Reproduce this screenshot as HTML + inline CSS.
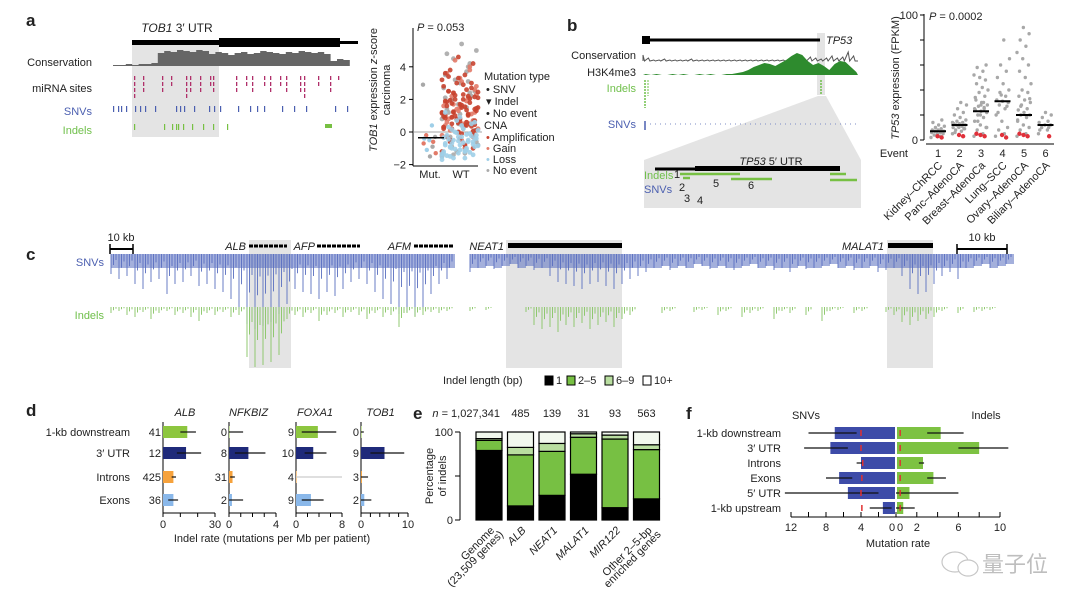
<!DOCTYPE html>
<html><head><meta charset="utf-8"><style>
html,body{margin:0;padding:0;background:#fff}
svg{display:block;font-family:"Liberation Sans","Noto Sans CJK SC",sans-serif}
text{fill:#222}
</style></head><body>
<svg id="fig" xmlns="http://www.w3.org/2000/svg" width="1080" height="607" viewBox="0 0 1080 607">
<rect width="1080" height="607" fill="#fff"/>
<text x="26" y="26" font-size="17" font-weight="bold">a</text>
<text x="567" y="31" font-size="17" font-weight="bold">b</text>
<text x="26" y="260" font-size="17" font-weight="bold">c</text>
<text x="26" y="416" font-size="17" font-weight="bold">d</text>
<text x="413" y="419" font-size="17" font-weight="bold">e</text>
<text x="686" y="419" font-size="17" font-weight="bold">f</text>

<g id="pa">
<rect x="132" y="45" width="87" height="92" fill="#e4e4e4"/>
<text x="177" y="32" font-size="12" text-anchor="middle"><tspan font-style="italic">TOB1</tspan> 3′ UTR</text>
<rect x="132" y="40" width="208" height="5" fill="#000"/>
<rect x="219" y="38" width="121" height="9" fill="#000"/>
<rect x="340" y="41" width="18" height="3" fill="#000"/>
<text x="92" y="66" font-size="11" text-anchor="end">Conservation</text>
<text x="92" y="92" font-size="11" text-anchor="end">miRNA sites</text>
<text x="92" y="115" font-size="11" text-anchor="end" style="fill:#4b5fb0">SNVs</text>
<text x="92" y="134" font-size="11" text-anchor="end" style="fill:#6fbf4a">Indels</text>
</g>
<g>
<line x1="413" y1="28" x2="413" y2="166" stroke="#000"/>
<line x1="413" y1="166" x2="478" y2="166" stroke="#000"/>
<line x1="413" y1="132" x2="482" y2="132" stroke="#888" stroke-width="0.8"/>
<text x="417" y="31" font-size="11"><tspan font-style="italic">P</tspan> = 0.053</text>
<text x="430" y="178" font-size="11" text-anchor="middle">Mut.</text>
<text x="461" y="178" font-size="11" text-anchor="middle">WT</text>
<text transform="translate(377,90) rotate(-90)" font-size="11" text-anchor="middle"><tspan font-style="italic">TOB1</tspan> expression <tspan font-style="italic">z</tspan>-score</text>
<text transform="translate(390,90) rotate(-90)" font-size="11" text-anchor="middle">carcinoma</text>
<g font-size="11">
<text x="484" y="80">Mutation type</text>
<text x="486" y="93">• SNV</text><text x="486" y="105">▾ Indel</text><text x="486" y="117">• No event</text>
<text x="484" y="129">CNA</text>
<text x="486" y="141"><tspan style="fill:#c8432f">•</tspan> Amplification</text>
<text x="486" y="152"><tspan style="fill:#e27a68">•</tspan> Gain</text>
<text x="486" y="163"><tspan style="fill:#9fcfe8">•</tspan> Loss</text>
<text x="486" y="174"><tspan style="fill:#aaa">•</tspan> No event</text>
</g>
</g>

<g>
<polygon points="818,96 826,96 861,160 644,160" fill="#e4e4e4"/>
<rect x="644" y="160" width="217" height="48" fill="#e4e4e4"/>
<rect x="817" y="33" width="8" height="62" fill="#e4e4e4"/>
<line x1="644" y1="40" x2="820" y2="40" stroke="#000" stroke-width="3"/>
<rect x="642" y="36" width="8" height="8" fill="#000"/>
<text x="826" y="44" font-size="11" font-style="italic">TP53</text>
<text x="636" y="59" font-size="11" text-anchor="end">Conservation</text>
<text x="636" y="76" font-size="11" text-anchor="end">H3K4me3</text>
<text x="636" y="92" font-size="11" text-anchor="end" style="fill:#6fbf4a">Indels</text>
<text x="636" y="128" font-size="11" text-anchor="end" style="fill:#4b5fb0">SNVs</text>
<line x1="650" y1="124" x2="858" y2="124" stroke="#7d8cc6" stroke-width="1" stroke-dasharray="1,4"/>
<line x1="645" y1="80" x2="645" y2="108" stroke="#6fbf4a" stroke-width="1.5" stroke-dasharray="2,1"/>
<line x1="648" y1="80" x2="648" y2="96" stroke="#6fbf4a" stroke-width="1" stroke-dasharray="2,1"/>
<line x1="821" y1="80" x2="821" y2="95" stroke="#6fbf4a" stroke-width="1.5" stroke-dasharray="2,1"/>
<line x1="645" y1="121" x2="645" y2="130" stroke="#4b5fb0" stroke-width="1.5"/>
<text x="771" y="165" font-size="11" text-anchor="middle"><tspan font-style="italic">TP53</tspan> 5′ UTR</text>
<line x1="655" y1="169" x2="695" y2="169" stroke="#000" stroke-width="3"/>
<rect x="695" y="166" width="145" height="5" fill="#000"/>
<text x="644" y="179" font-size="11" style="fill:#6fbf4a">Indels</text>
<text x="644" y="193" font-size="11" style="fill:#4b5fb0">SNVs</text>
<g stroke="#77c043" stroke-width="2.5">
<line x1="680" y1="174" x2="740" y2="174"/><line x1="731" y1="179" x2="772" y2="179"/>
<line x1="830" y1="174" x2="846" y2="174"/><line x1="830" y1="180" x2="857" y2="180"/><line x1="683" y1="178" x2="690" y2="178"/>
</g>
<g font-size="11">
<text x="674" y="178">1</text><text x="713" y="187">5</text><text x="748" y="189">6</text>
<text x="679" y="191">2</text><text x="684" y="202">3</text><text x="697" y="204">4</text>
</g>
</g>
<g>
<line x1="924" y1="14" x2="924" y2="140" stroke="#000"/>
<line x1="926" y1="144" x2="1054" y2="144" stroke="#000"/>
<text x="929" y="20" font-size="11"><tspan font-style="italic">P</tspan> = 0.0002</text>
<text transform="translate(899,78) rotate(-90)" font-size="11" text-anchor="middle"><tspan font-style="italic">TP53</tspan> expression (FPKM)</text>
<text x="908" y="157" font-size="11" text-anchor="end">Event</text>
</g>

<g>
<rect x="249" y="240" width="42" height="128" fill="#e4e4e4"/>
<rect x="506" y="240" width="116" height="128" fill="#e4e4e4"/>
<rect x="887" y="240" width="46" height="128" fill="#e4e4e4"/>
<text x="104" y="266" font-size="11" text-anchor="end" style="fill:#4b5fb0">SNVs</text>
<text x="104" y="319" font-size="11" text-anchor="end" style="fill:#6fbf4a">Indels</text>
<g><line x1="110" y1="249" x2="133" y2="249" stroke="#000" stroke-width="2"/><line x1="110" y1="244" x2="110" y2="254" stroke="#000" stroke-width="1.5"/><line x1="133" y1="244" x2="133" y2="254" stroke="#000" stroke-width="1.5"/><text x="121" y="241" font-size="11" text-anchor="middle">10 kb</text></g>
<g><line x1="957" y1="249" x2="1007" y2="249" stroke="#000" stroke-width="2"/><line x1="957" y1="244" x2="957" y2="254" stroke="#000" stroke-width="1.5"/><line x1="1007" y1="244" x2="1007" y2="254" stroke="#000" stroke-width="1.5"/><text x="982" y="241" font-size="11" text-anchor="middle">10 kb</text></g>
<g font-size="11" font-style="italic">
<text x="246" y="250" text-anchor="end">ALB</text><text x="315" y="250" text-anchor="end">AFP</text><text x="411" y="250" text-anchor="end">AFM</text>
<text x="504" y="250" text-anchor="end">NEAT1</text><text x="884" y="250" text-anchor="end">MALAT1</text></g>
<g>
<line x1="249" y1="246" x2="287" y2="246" stroke="#000" stroke-width="3" stroke-dasharray="4,1"/>
<line x1="317" y1="246" x2="360" y2="246" stroke="#000" stroke-width="3" stroke-dasharray="4,1"/>
<line x1="414" y1="246" x2="454" y2="246" stroke="#000" stroke-width="3" stroke-dasharray="4,1"/>
<rect x="508" y="243" width="114" height="5" fill="#000"/><rect x="888" y="243" width="45" height="5" fill="#000"/></g>
<g font-size="11">
<text x="443" y="384">Indel length (bp)</text>
<rect x="545" y="376" width="8" height="9" fill="#000" stroke="#000"/><text x="556" y="384">1</text>
<rect x="567" y="376" width="8" height="9" fill="#77c043" stroke="#000"/><text x="578" y="384">2–5</text>
<rect x="605" y="376" width="8" height="9" fill="#b9dea0" stroke="#000"/><text x="616" y="384">6–9</text>
<rect x="643" y="376" width="8" height="9" fill="#fff" stroke="#000"/><text x="654" y="384">10+</text>
</g>
</g>

<text x="272" y="542" font-size="11" text-anchor="middle">Indel rate (mutations per Mb per patient)</text>
<text transform="translate(433,476) rotate(-90)" font-size="11" text-anchor="middle">Percentage</text>
<text transform="translate(446,476) rotate(-90)" font-size="11" text-anchor="middle">of indels</text>
<text x="806" y="419" font-size="11" text-anchor="middle">SNVs</text>
<text x="986" y="419" font-size="11" text-anchor="middle">Indels</text>
<text x="898" y="547" font-size="11" text-anchor="middle">Mutation rate</text>

<g opacity="0.55">
<ellipse cx="955" cy="562" rx="13" ry="10" fill="none" stroke="#999" stroke-width="1.2"/>
<ellipse cx="968" cy="568" rx="10" ry="8" fill="#fff" stroke="#999" stroke-width="1.2"/>
<text x="982" y="572" font-size="22" style="fill:#8a8a8a">量子位</text>
</g>

<g id="dyn"></g>
</svg>
<script>
const NS='http://www.w3.org/2000/svg';
const root=document.getElementById('dyn');
function mk(tag,attrs,txt){const e=document.createElementNS(NS,tag);for(const k in attrs)e.setAttribute(k,attrs[k]);if(txt!==undefined)e.textContent=txt;root.appendChild(e);return e;}

/* panel a tracks */
const consHeights=[1,1,2,1,2,2,3,13,15,14,16,15,14,16,15,12,14,13,11,13,14,12,13,15,14,13,12,14,13,15,14,13,14,12,5,7,6];
const mirnaX=[134,143,162,171,186,190,200,210,213,236,246,252,264,270,280,286,300,304,318,330,338];
const mirnaN=[4,3,3,2,4,3,3,2,3,3,2,3,2,3,2,3,3,4,2,3,1];
const snvAx=[113,118,121,126,135,140,145,155,176,180,184,194,209,214,220,238,250,257,264,282,294,306,335,347];
const indelAx=[134,164,172,176,178,183,192,203,213,227];

const consX0=113,consStep=6.4;
let pts=consX0+',66 ';
consHeights.forEach((h,i)=>{pts+=(consX0+i*consStep)+','+(66-h)+' '+(consX0+(i+1)*consStep)+','+(66-h)+' ';});
pts+=(consX0+consHeights.length*consStep)+',66';
const cons=mk('polygon',{points:pts,fill:'#666'});


mirnaX.forEach((x,i)=>{for(let k=0;k<mirnaN[i];k++){const m=mk('rect',{x:x,y:76+k*6,width:1.3,height:4,fill:'#b0306a'});

}});
snvAx.forEach(x=>{const m=mk('rect',{x:x,y:106,width:1.2,height:6,fill:'#4b5fb0'});

});
indelAx.forEach(x=>{const m=mk('rect',{x:x,y:124,width:1.2,height:6,fill:'#77c043'});

});
const blk=mk('rect',{x:325,y:124,width:7,height:4,fill:'#77c043'});



/* panel a scatter */
const aTicks=[4,2,0,-2];
const mutVals=[2.9,0.4,-0.2,-0.3,-0.5,-0.7,-0.9,-1.1,-1.3,-1.5,-0.4,-0.6];
const mutMedian=-0.35;
const wtNone=[-1.5,-1,-0.5,0,0.5,1,1.5,2,2.5,3,3.5,4,4.5,5,5.4,4.8,4.2,3.2,-0.8,0.2,1.2,2.2,-1.2,0.8,-1.3,-0.3,0.7,1.7,2.7,3.7,-0.9,0.1,1.1,2.1,3.1,-1.4,-0.6,0.4,1.4,2.4];
const wtGain=[-1.4,-1,-0.6,-0.3,0,0.3,0.6,0.9,1.2,1.5,1.8,2.1,2.4,2.8,3.1,3.6,4,4.4,0.2,0.5,0.8,1.1,1.4,-0.2,-0.8,0.1,0.7,1.3,1.6,1.9,2.2,2.6,3.3,0.4,1,1.7,2.3,-0.5,0.6,3.8];
const wtAmp=[-1.2,-0.8,-0.5,-0.2,0,0.2,0.4,0.5,0.7,0.8,1,1.1,1.2,1.3,1.5,1.6,1.8,2,2.1,2.3,2.5,2.7,3,3.2,3.5,3.8,4.2,4.6,0.3,0.6,0.9,1.4,1.7,1.9,2.2,2.4,0.1,-0.1,-0.3,0.5,1,1.5,2,2.5,3,0.8,1.2,0.4,-0.6,-1,3.3,2.8,2.6,0.2,0.45,0.65,0.85,1.05,1.25,1.45,1.65,1.85,2.05,2.25,2.45,2.9,3.4,0.35,0.75,1.15,1.55,1.95,0.05,0.55,0.95,1.35,1.75,2.15,-0.4,3.6];
const wtLoss=[-1.7,-1.6,-1.5,-1.4,-1.3,-1.2,-1.1,-1,-0.9,-0.8,-0.7,-0.6,-0.5,-0.4,-0.3,-0.2,-0.1,0,0.1,0.2,0.3,0.5,0.7,-1.5,-1.2,-0.9,-0.6,-0.3,-1.3,-1,-0.7,-0.4,-1.1,-0.8,-0.5,-1.6,-0.2,0.4,-1.45,-1.25,-1.05,-0.85,-0.65,-0.45,-0.25,-0.05,-1.35,-1.15,-0.95,-0.75,-0.55,-0.35,-0.15,0.15,0.6,0.9,1.2];
const ya=v=>132-v*16.3;
aTicks.forEach(t=>{const l=mk('line',{x1:409,x2:413,y1:ya(t),y2:ya(t),stroke:'#000'});


const tx=mk('text',{x:406,y:ya(t)+4,'font-size':11,'text-anchor':'end'},t<0?'−'+(-t):String(t));

});
function jit(i,w){return (((i*37)%23)/22-0.5)*w;}
function dotsA(arr,cx,w,col,name){arr.forEach((v,i)=>{const c=mk('circle',{cx:cx+jit(i,w),cy:ya(v),r:2.4,fill:col,opacity:0.9});

});}
dotsA(wtNone,460,36,'#a8a8a8','wt-point-no-event');
dotsA(wtGain,460,36,'#e27a68','wt-point-gain');
dotsA(wtAmp,460,36,'#c8432f','wt-point-amplification');
dotsA(wtLoss,460,36,'#9fcfe8','wt-point-loss');
mutVals.forEach((v,i)=>{const c=mk('circle',{cx:430+jit(i,14),cy:ya(v),r:2.2,fill:i%3==0?'#a8a8a8':(i%3==1?'#9fcfe8':'#e27a68')});

});
const mm=mk('line',{x1:418,x2:444,y1:ya(mutMedian),y2:ya(mutMedian),stroke:'#000','stroke-width':1.5});



/* panel b tracks */
const bConsH=[6,3,1,1,2,1,1,1,1,2,1,1,1,1,1,1,1,1,1,1,1,1,1,1,1,1,1,1,2,3,2,4,3,2,3,5,3,4,9,5];
const h3k=[1,0,1,0,0,1,0,1,0,0,1,0,1,0,0,1,1,2,3,5,8,10,12,11,9,12,15,19,22,20,14,10,12,9,5,11,14,13,8,3];
const bx0=643,bstep=5.4;
let cp='';bConsH.forEach((h,i)=>{cp+=(bx0+i*bstep)+','+(61-h)+' '+(bx0+i*bstep+1.5)+',61 ';});
const bc=mk('polyline',{points:bx0+',61 '+cp+'858,61',fill:'none',stroke:'#555','stroke-width':1});


let hp=bx0+',75 ';h3k.forEach((h,i)=>{hp+=(bx0+i*bstep+2.7)+','+(75-h)+' ';});hp+='858,75';
const hk=mk('polygon',{points:hp,fill:'#2e8b2e'});



/* panel b scatter */
const bCats=['Kidney–ChRCC','Panc–AdenoCA','Breast–AdenoCa','Lung–SCC','Ovary–AdenoCA','Biliary–AdenoCA'];
const bTicks=[0,20,40,60,80,100];
const bGrey=[
[2,3,4,5,5,6,6,7,7,8,8,9,10,11,12,14,16],
[5,7,8,9,10,10,11,12,12,13,13,14,15,16,18,20,22,25,28,30,6,9,11,14],
[3,5,8,10,12,15,18,20,22,23,24,25,27,28,30,32,35,38,40,42,45,48,50,52,55,58,60,20,25,30,15,10,28,34,26],
[3,5,8,10,15,20,25,28,30,31,32,35,38,40,45,50,55,60,65,80,22,27,36],
[3,5,8,10,12,15,18,20,20,22,24,25,28,30,32,35,38,40,45,50,55,60,65,70,75,80,85,90,16,19,27,33],
[5,8,10,12,12,14,15,18,20,22,8,10]];
const bRed=[[2,3],[3,4],[3,4,5],[2,4],[3,4,5],[3]];
const bMed=[7,12,23,31,20,12];
const yb=v=>140-v*1.25;
const xb=i=>938+i*21.5;
bTicks.forEach(t=>{const l=mk('line',{x1:920,x2:924,y1:yb(t),y2:yb(t),stroke:'#000'});

});
[0,100].forEach(t=>{const tx=mk('text',{x:918,y:yb(t)+4,'font-size':11,'text-anchor':'end'},String(t));

});
bCats.forEach((c,i)=>{
bGrey[i].forEach((v,j)=>{const p=mk('circle',{cx:xb(i)+jit(j,14),cy:yb(v),r:1.7,fill:'#a8a8a8'});

});
bRed[i].forEach((v,j)=>{const p=mk('circle',{cx:xb(i)+jit(j+3,10),cy:yb(v),r:2.2,fill:'#e0303a'});

});
const m=mk('line',{x1:xb(i)-8,x2:xb(i)+8,y1:yb(bMed[i]),y2:yb(bMed[i]),stroke:'#000','stroke-width':2});


const n=mk('text',{x:xb(i),y:157,'font-size':11,'text-anchor':'middle'},String(i+1));


const t=mk('text',{transform:'translate('+(xb(i)+5)+',166) rotate(-45)','font-size':11,'text-anchor':'end'},c);


});

/* panel c */
const snvLeft=[20,25,22,30,35,28,25,40,30,28,22,32,30,35,38,45,55,70,75,72,68,60,50,35,38,40,45,38,42,35,28,25,30,38,45,50,60,58,62,55,40,30,25];
const snvRight=[18,14,12,15,12,10,14,12,16,14,22,28,30,32,35,30,28,32,35,30,25,22,18,14,12,16,12,14,10,12,15,12,14,16,12,10,14,12,16,14,18,12,15,14,12,10,14,12,16,14,12,18,16,14,22,35,40,38,30,22,18,25,14,12,10,14,12,10];
const indLeft=[6,4,8,10,5,12,6,4,8,6,10,14,6,8,5,10,8,50,60,58,55,48,12,8,10,6,14,8,6,10,5,8,12,6,10,8,20,6,10,8,5,6,4];
const indRight=[4,0,3,0,0,0,0,5,18,22,20,25,18,20,16,22,18,15,20,12,8,0,0,0,6,4,0,0,5,3,0,8,4,0,10,6,4,0,12,4,6,0,8,0,14,4,3,0,6,4,0,0,5,8,15,18,14,12,10,4,0,6,0,5,4,3,0,0];
function ticksC(arr,x0,y0,col,name,band){arr.forEach((d,i)=>{if(!d)return;const x=x0+i*8;
if(band){const b=mk('rect',{x:x,y:y0,width:8,height:Math.min(d,14),fill:col,opacity:0.55});

}
[[0,1],[2.5,0.55],[5,0.3]].forEach(([dx,f])=>{const l=mk('line',{x1:x+dx,x2:x+dx,y1:y0,y2:y0+d*f,stroke:col,'stroke-width':0.9});

});});}
ticksC(snvLeft,111,254,'#5a6fc0','snv-tick',true);
ticksC(snvRight,470,254,'#5a6fc0','snv-tick',true);
ticksC(indLeft,111,307,'#86c462','indel-tick',false);
ticksC(indRight,470,307,'#86c462','indel-tick',false);

/* panel d */
const dRows=['1-kb downstream','3′ UTR','Introns','Exons'];
const dGenes=['ALB','NFKBIZ','FOXA1','TOB1'];
const dMax=[30,4,8,10];
const dTickStep=[10,1,2,2];
const dCounts=[[41,12,425,36],[0,8,31,2],[9,10,4,9],[0,9,3,2]];
const dMean=[[14,13.3,6,6],[0,1.65,0.3,0.25],[3.8,3,0.1,2.6],[0,5,0.2,0.7]];
const dLo=[[10,8,5,3],[0,0.5,0.1,0],[1,1.5,0,1],[0,2,0,0]];
const dHi=[[19,22,7.5,8.7],[1.2,3.1,0.5,1.2],[7,5.3,8,4.8],[0.6,9.2,1.5,2.2]];
const dColors=['#8dc63f','#1f2a7a','#f6a23c','#8ab8ea'];
const dAx=[163,229,296,361], dW=[52,47,46,47], dY=[432,453,477,500];
dRows.forEach((r,j)=>{const t=mk('text',{x:130,y:dY[j]+4,'font-size':11,'text-anchor':'end'},r);

});
dGenes.forEach((g,k)=>{
const x0=dAx[k],sc=dW[k]/dMax[k],xd=v=>x0+v*sc;
const gt=mk('text',{x:x0+dW[k]/2-4,y:416,'font-size':11,'font-style':'italic','text-anchor':'middle'},g);


const va=mk('line',{x1:x0,x2:x0,y1:422,y2:513,stroke:'#000'});


const ha=mk('line',{x1:x0,x2:xd(dMax[k]),y1:513,y2:513,stroke:'#000'});


for(let v=0;v<=dMax[k]+1e-9;v+=dTickStep[k]){const tk=mk('line',{x1:xd(v),x2:xd(v),y1:513,y2:517,stroke:'#000'});

}
[0,dMax[k]].forEach(v=>{const tl=mk('text',{x:xd(v),y:528,'font-size':11,'text-anchor':'middle'},String(v));

});
dRows.forEach((r,j)=>{
const b=mk('rect',{x:x0,y:dY[j]-6,width:Math.max(dMean[k][j]*sc,0.5),height:12,fill:dColors[j]});


const e=mk('line',{x1:xd(dLo[k][j]),x2:xd(dHi[k][j]),y1:dY[j],y2:dY[j],stroke:(dMean[k][j]<0.15&&dHi[k][j]>3)?'#ccc':'#111','stroke-width':1.2});


const c=mk('text',{x:x0-2,y:dY[j]+4,'font-size':11,'text-anchor':'end'},String(dCounts[k][j]));


});});

/* panel e */
const eCats=[['Genome','(23,509 genes)'],['ALB'],['NEAT1'],['MALAT1'],['MIR122'],['Other 2–5-bp','enriched genes']];
const eN=['n = 1,027,341','485','139','31','93','563'];
const e1=[79,16,28,52,14,24];
const e25=[11.5,58,50,42,78,56];
const e69=[2,8.5,9,4,4.5,5.5];
const e10=[7.5,17.5,13,2,3.5,14.5];
const eTicks=[0,50,100];
const ye=p=>520-p*0.88;
const eCol=['#000','#77c043','#b9dea0','#f2f8ee'];
const eax=mk('line',{x1:460,x2:460,y1:ye(100),y2:ye(0),stroke:'#000'});


eTicks.forEach(t=>{const l=mk('line',{x1:455,x2:460,y1:ye(t),y2:ye(t),stroke:'#000'});


if(t!==50){const tx=mk('text',{x:453,y:ye(t)+4,'font-size':11,'text-anchor':'end'},String(t));

}});
eCats.forEach((c,i)=>{
const x=476+i*31.5, w=26;
let acc=0;
[e1[i],e25[i],e69[i],e10[i]].forEach((v,s)=>{const r=mk('rect',{x:x,y:ye(acc+v),width:w,height:v*0.88,fill:eCol[s],stroke:'#000','stroke-width':1.2});


acc+=v;});
const n=mk('text',{x:i==0?x+w-2:x+w/2,y:417,'font-size':11,'text-anchor':i==0?'end':'middle'},i==0?'':eN[i]);


if(i==0){n.innerHTML='<tspan font-style="italic">n</tspan> = 1,027,341';}
const lab=mk('text',{transform:'translate('+(x+w/2+6)+',531) rotate(-45)','font-size':11,'text-anchor':'end','font-style':(i>0&&i<5)?'italic':'normal'},c[0]);


if(c[1]){const l2=mk('text',{transform:'translate('+(x+w/2+15)+',535) rotate(-45)','font-size':11,'text-anchor':'end'},c[1]);

}
});

/* panel f */
const fRows=['1-kb downstream','3′ UTR','Introns','Exons','5′ UTR','1-kb upstream'];
const snvRate=[7,7.5,4,6.5,5.5,1.5];
const snvLo=[4.5,5.5,3.8,5,2,0.5];
const snvHi=[10,10.5,4.5,8,12.7,3];
const snvRef=[4,4,3.8,3.9,4,3.9];
const indelRate=[4.2,7.9,2.5,3.5,1.2,0.6];
const indelLo=[3,6,2.2,3,0,0];
const indelHi=[6.5,10.8,2.7,4.8,6,1.8];
const indelRef=[0.4,0.4,0.4,0.4,0.4,0.4];
const fLeftTicks=[0,2,4,6,8,10,12], fLeftLabels=[12,8,4,0];
const fRightTicks=[0,2,4,6,8,10], fRightLabels=[0,2,6,10];
const fX0=896, fY=[433,448,463,478,493,508];
const xl=v=>fX0-v*8.75, xr=v=>fX0+v*10.4;
fRows.forEach((r,j)=>{
const t=mk('text',{x:781,y:fY[j]+4,'font-size':11,'text-anchor':'end'},r);


const sb=mk('rect',{x:xl(snvRate[j]),y:fY[j]-6,width:snvRate[j]*8.75-1,height:12,fill:'#3d4ba8'});


const ib=mk('rect',{x:fX0+1,y:fY[j]-6,width:indelRate[j]*10.4,height:12,fill:'#7dc242'});


const se=mk('line',{x1:xl(snvLo[j]),x2:xl(snvHi[j]),y1:fY[j],y2:fY[j],stroke:'#111','stroke-width':1.2});


const ie=mk('line',{x1:xr(indelLo[j]),x2:xr(indelHi[j]),y1:fY[j],y2:fY[j],stroke:'#111','stroke-width':1.2});


const sr=mk('line',{x1:xl(snvRef[j]),x2:xl(snvRef[j]),y1:fY[j]-3,y2:fY[j]+3,stroke:'#e03030','stroke-width':1.5});


const ir=mk('line',{x1:xr(indelRef[j]),x2:xr(indelRef[j]),y1:fY[j]-3,y2:fY[j]+3,stroke:'#e03030','stroke-width':1.5});


});
const fax=mk('line',{x1:xl(12),x2:xr(10),y1:517,y2:517,stroke:'#000'});


fLeftTicks.forEach(v=>{const l=mk('line',{x1:xl(v),x2:xl(v),y1:512,y2:517,stroke:'#000'});

});
fRightTicks.forEach(v=>{const l=mk('line',{x1:xr(v),x2:xr(v),y1:512,y2:517,stroke:'#000'});

});
fLeftLabels.forEach(v=>{const t=mk('text',{x:xl(v)-(v==0?4:0),y:531,'font-size':11,'text-anchor':'middle'},String(v));

});
fRightLabels.forEach(v=>{if(v==0)return;const t=mk('text',{x:xr(v),y:531,'font-size':11,'text-anchor':'middle'},String(v));

});
const z=mk('text',{x:xr(0)+4,y:531,'font-size':11,'text-anchor':'middle'},'0');


</script>
</body></html>
